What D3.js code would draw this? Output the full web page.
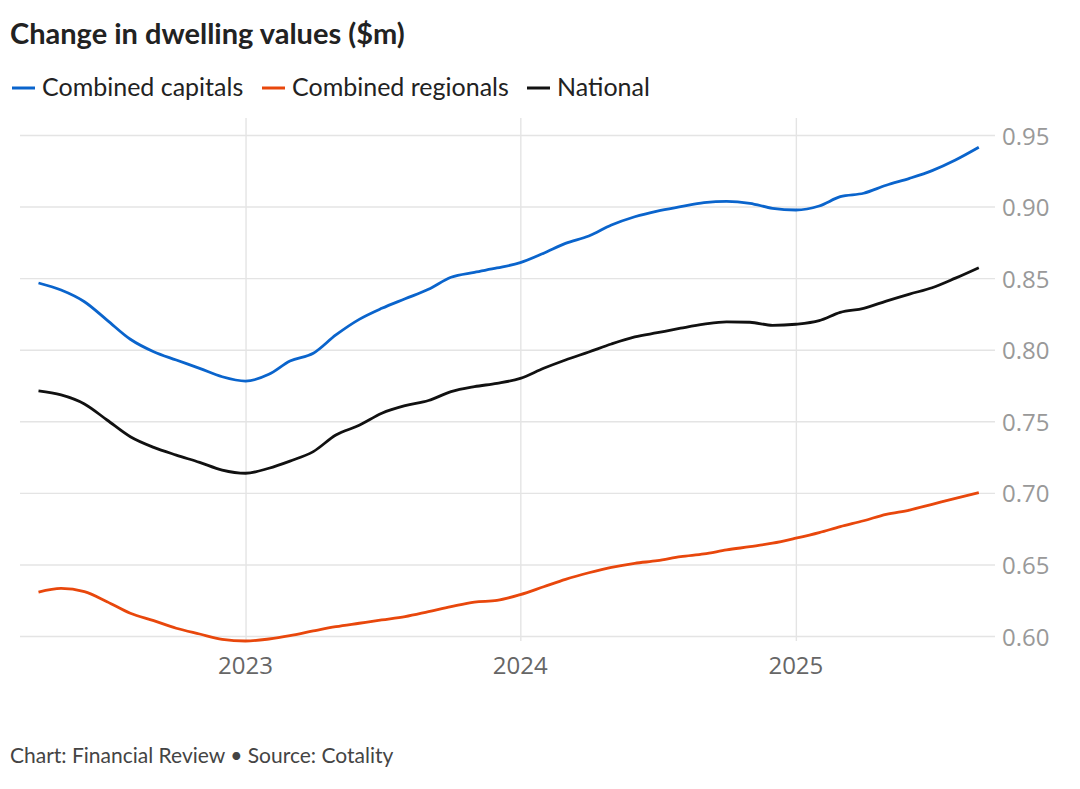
<!DOCTYPE html>
<html>
<head>
<meta charset="utf-8">
<script src="https://cdn.jsdelivr.net/npm/d3@7"></script>
<style>
  body { margin: 0; background: #fff; }
  svg text { font-family: Lato, "Noto Sans", sans-serif; }
  svg text.num { font-family: "Open Sans", "Noto Sans", sans-serif; }
  .grid line { stroke: #e4e4e4; stroke-width: 1.4; }
  .grid path { display: none; }
</style>
</head>
<body>
<div id="chart"></div>
<script>
// data, monthly from April 2022
var startMonth = "2022-04-01";
var capitals = [0.8466, 0.8417, 0.8335, 0.8207, 0.8073, 0.7986, 0.7928, 0.7870, 0.7811, 0.7781,
  0.7828, 0.7921, 0.7975, 0.8103, 0.8212, 0.8289, 0.8356, 0.8422, 0.8506, 0.8541,
  0.8571, 0.8608, 0.8674, 0.8743, 0.8794, 0.8871, 0.8929, 0.8969, 0.8999, 0.9027,
  0.9037, 0.9023, 0.8988, 0.8976, 0.9004, 0.9069, 0.9093, 0.9149, 0.9197, 0.9251,
  0.9325, 0.9414];
var regionals = [0.6307, 0.6333, 0.6310, 0.6240, 0.6159, 0.6107, 0.6054, 0.6014, 0.5977, 0.5965,
  0.5979, 0.6002, 0.6035, 0.6065, 0.6089, 0.6112, 0.6135, 0.6170, 0.6205, 0.6237,
  0.6249, 0.6289, 0.6344, 0.6396, 0.6442, 0.6480, 0.6508, 0.6526, 0.6554, 0.6573,
  0.6601, 0.6624, 0.6648, 0.6683, 0.6722, 0.6764, 0.6805, 0.6850, 0.6880, 0.6920,
  0.6962, 0.7001];
var national = [0.7712, 0.7684, 0.7621, 0.7509, 0.7392, 0.7318, 0.7264, 0.7213, 0.7159, 0.7137,
  0.7172, 0.7222, 0.7288, 0.7404, 0.7472, 0.7556, 0.7609, 0.7645, 0.7707, 0.7742,
  0.7765, 0.7800, 0.7870, 0.7928, 0.7984, 0.8040, 0.8089, 0.8119, 0.8150, 0.8178,
  0.8194, 0.8192, 0.8170, 0.8178, 0.8203, 0.8261, 0.8289, 0.8340, 0.8389, 0.8433,
  0.8500, 0.8573];
var seriesNames = ["Combined capitals", "Combined regionals", "National"];
var seriesColors = ["#0a64cc", "#e8470c", "#111111"];
var yTicks = [0.60, 0.65, 0.70, 0.75, 0.80, 0.85, 0.90, 0.95];
var xTickYears = ["2023", "2024", "2025"];

var width = 1080, height = 789;
var svg = d3.select("#chart").append("svg")
    .attr("width", width).attr("height", height);

var parseDate = d3.timeParse("%Y-%m-%d");
var start = parseDate(startMonth);
var dates = capitals.map(function(d, i) { return d3.timeMonth.offset(start, i); });

var x = d3.scaleTime()
    .domain([dates[0], dates[dates.length - 1]])
    .range([38.5, 978.8]);
var y = d3.scaleLinear().domain([0.60, 0.95]).range([636, 135]);

// title
svg.append("text")
    .attr("x", 10).attr("y", 44)
    .attr("font-size", 29).attr("font-weight", 700)
    .attr("fill", "#222")
    .text("Change in dwelling values ($m)");

// legend
var legendX = [12, 262, 527];
seriesNames.forEach(function(name, i) {
  var g = svg.append("g").attr("transform", "translate(" + legendX[i] + ",87)");
  g.append("line").attr("x1", 0).attr("x2", 23).attr("y1", 1).attr("y2", 1)
      .attr("stroke", seriesColors[i]).attr("stroke-width", 3);
  g.append("text").attr("x", 30).attr("y", 9)
      .attr("font-size", 25).attr("fill", "#222").text(name);
});

// grid
svg.append("g").attr("class", "grid")
    .attr("transform", "translate(20,0)")
    .call(d3.axisRight(y).tickValues(yTicks).tickSize(975).tickFormat(""));

var yearDates = xTickYears.map(function(s) { return parseDate(s + "-01-01"); });
svg.append("g").attr("class", "grid")
    .attr("transform", "translate(0,118)")
    .call(d3.axisBottom(x).tickValues(yearDates).tickSize(523).tickFormat(""));

// y labels
svg.append("g").selectAll("text").data(yTicks).join("text")
    .attr("class", "num")
    .attr("x", 1002).attr("y", function(d) { return y(d) + 9.5; })
    .attr("font-size", 24).attr("fill", "#999")
    .text(function(d) { return d3.format(".2f")(d); });

// x labels
svg.append("g").selectAll("text").data(yearDates).join("text")
    .attr("class", "num")
    .attr("x", function(d) { return x(d); }).attr("y", 674)
    .attr("text-anchor", "middle")
    .attr("font-size", 24).attr("fill", "#666")
    .text(function(d) { return d3.timeFormat("%Y")(d); });

// lines
var line = d3.line()
    .x(function(d, i) { return x(dates[i]); })
    .y(function(d) { return y(d); })
    .curve(d3.curveMonotoneX);

[capitals, regionals, national].forEach(function(vals, i) {
  svg.append("path").datum(vals)
      .attr("fill", "none")
      .attr("stroke", seriesColors[i])
      .attr("stroke-width", 2.8)
      .attr("stroke-linejoin", "round")
      .attr("d", line);
});

// footer
svg.append("text")
    .attr("x", 10).attr("y", 763)
    .attr("font-size", 21).attr("fill", "#444")
    .text("Chart: Financial Review \u2022 Source: Cotality");
</script>
</body>
</html>
